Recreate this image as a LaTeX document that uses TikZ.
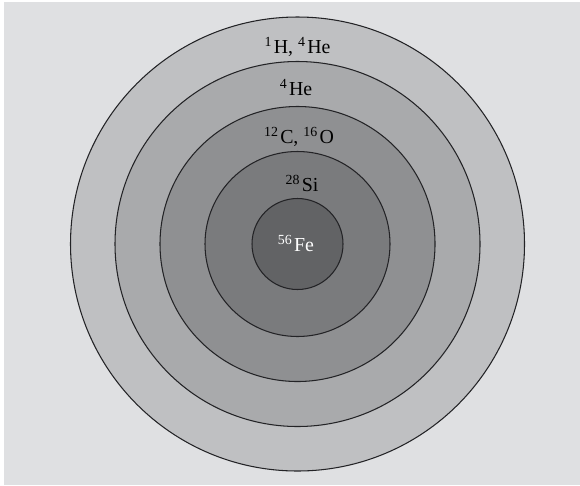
\documentclass[tikz,border=0pt]{standalone}
\usepackage{fontspec}
\setmainfont{Liberation Serif}
\usepackage{tikz}
\definecolor{fundo}{RGB}{223,224,226}
\definecolor{camadaA}{RGB}{191,192,194}
\definecolor{camadaB}{RGB}{169,170,172}
\definecolor{camadaC}{RGB}{143,144,146}
\definecolor{camadaD}{RGB}{122,123,125}
\definecolor{nucleo}{RGB}{98,99,101}
\definecolor{linha}{RGB}{35,35,38}
\newcommand{\iso}[2]{\textsuperscript{#1}\kern0.8pt#2}

\begin{document}
\begin{tikzpicture}[x=0.02cm,y=0.02cm,
  rotulo/.style={font=\fontsize{11.3}{13}\selectfont, inner sep=0pt, anchor=base}]

% fundo
\useasboundingbox (0,0) rectangle (580,485);
\fill[fundo] (4,0) rectangle (580,483);

% camadas da estrela
\coordinate (centro) at (297.5,241);
\foreach \r/\c in {227/camadaA,182.5/camadaB,137.5/camadaC,92.5/camadaD,45.5/nucleo}{
  \draw[line width=0.6pt, draw=linha, fill=\c] (centro) circle (\r);
}

% elementos
\node[rotulo] (hidrogenio) at (297.5,431.5) {\iso{1}{H}, \iso{4}{He}};
\node[rotulo] (helio) at (296,389.5) {\iso{4}{He}};
\node[rotulo] (carbono) at (299,341.5) {\iso{12}{C}, \iso{16}{O}};
\node[rotulo] (silicio) at (302,294) {\iso{28}{Si}};
\node[rotulo, white] (ferro) at (296,234) {\iso{56}{Fe}};

\end{tikzpicture}
\end{document}
